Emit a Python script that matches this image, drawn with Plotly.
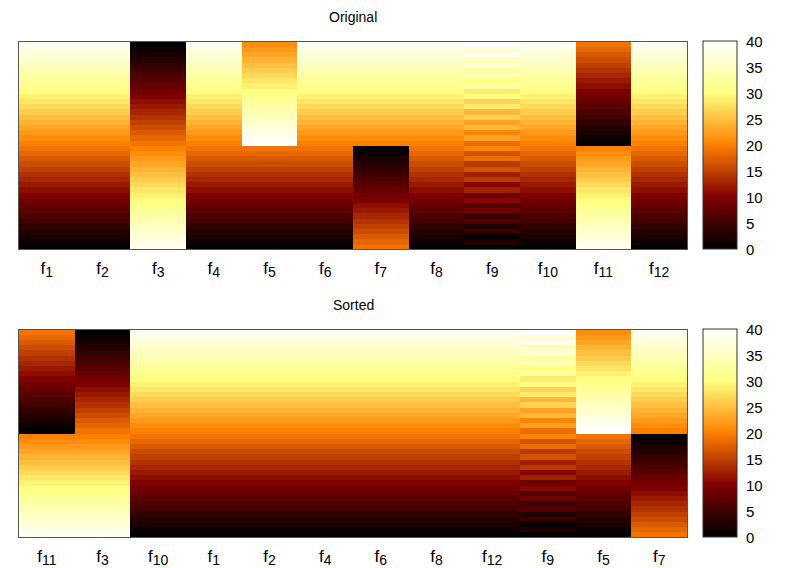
import plotly.graph_objects as go

# ---- data (bottom row first) ----
names = ["f1", "f2", "f3", "f4", "f5", "f6", "f7", "f8", "f9", "f10", "f11", "f12"]
sorted_names = ["f11", "f3", "f10", "f1", "f2", "f4", "f6", "f8", "f12", "f9", "f5", "f7"]

ramp = [0, 1, 2, 3, 4, 5, 6, 7, 8, 9, 10, 11, 12, 13, 14, 15, 16, 17, 18, 19,
        20, 21, 22, 23, 24, 25, 26, 27, 28, 29, 30, 31, 32, 33, 34, 35, 36, 37, 38, 39]
f3 = [39, 38, 37, 36, 35, 34, 33, 32, 31, 30, 29, 28, 27, 26, 25, 24, 23, 22, 21, 20,
      19, 18, 17, 16, 15, 14, 13, 12, 11, 10, 9, 8, 7, 6, 5, 4, 3, 2, 1, 0]
f5 = [0, 1, 2, 3, 4, 5, 6, 7, 8, 9, 10, 11, 12, 13, 14, 15, 16, 17, 18, 19,
      40, 39, 38, 37, 36, 35, 34, 33, 32, 31, 30, 29, 28, 27, 26, 25, 24, 23, 22, 21]
f7 = [19, 18, 17, 16, 15, 14, 13, 12, 11, 10, 9, 8, 7, 6, 5, 4, 3, 2, 1, 0,
      20, 21, 22, 23, 24, 25, 26, 27, 28, 29, 30, 31, 32, 33, 34, 35, 36, 37, 38, 39]
f9 = [0, 2.5, 0.5, 4.5, 2.5, 6.5, 4.5, 8.5, 6.5, 10.5, 8.5, 12.5, 10.5, 14.5, 12.5, 16.5,
      14.5, 18.5, 16.5, 20.5, 18.5, 22.5, 20.5, 24.5, 22.5, 26.5, 24.5, 28.5, 26.5, 30.5,
      28.5, 32.5, 30.5, 34.5, 32.5, 36.5, 34.5, 38.5, 36.5, 40]
f11 = [39, 38, 37, 36, 35, 34, 33, 32, 31, 30, 29, 28, 27, 26, 25, 24, 23, 22, 21, 20,
       0, 1, 2, 3, 4, 5, 6, 7, 8, 9, 10, 11, 12, 13, 14, 15, 16, 17, 18, 19]

columns = {
    "f1": ramp, "f2": ramp, "f3": f3, "f4": ramp, "f5": f5, "f6": ramp,
    "f7": f7, "f8": ramp, "f9": f9, "f10": ramp, "f11": f11, "f12": ramp,
}
cb_ticks = [0, 5, 10, 15, 20, 25, 30, 35, 40]

# ---- layout geometry (pixels -> paper) ----
W, H = 787, 568
px = lambda x: x / W
py = lambda y: 1 - y / H
X0, X1 = 19, 687
panels = [(42, 251), (332, 541)]
CBX0, CBX1 = 703, 737

colorscale = [
    [0.0, "rgb(0,0,0)"],
    [0.25, "rgb(128,0,0)"],
    [0.5, "rgb(255,128,0)"],
    [0.75, "rgb(255,255,128)"],
    [1.0, "rgb(255,255,255)"],
]

FAM = "Liberation Sans, Arial, sans-serif"
font = dict(family=FAM, size=14, color="black")
xfont = dict(family=FAM, size=17, color="black")
cbfont = dict(family=FAM, size=15, color="black")

def label(n):
    return "f<sub><span style='font-size:14px'>%s</span></sub>" % n[1:]

fig = go.Figure()
shapes = []
annotations = []
for k, (order, title) in enumerate([(names, "Original"), (sorted_names, "Sorted")]):
    ytop, ybot = panels[k]
    nrows = len(columns[order[0]])
    z = [[columns[n][r] for n in order] for r in range(nrows)]
    xa = "x" if k == 0 else "x2"
    ya = "y" if k == 0 else "y2"
    fig.add_trace(go.Heatmap(
        z=z, x=list(range(len(order))), y=list(range(nrows)),
        xaxis=xa, yaxis=ya, zmin=0, zmax=40, colorscale=colorscale,
        hoverinfo="skip",
        colorbar=dict(
            x=px(CBX0), xanchor="left", xpad=0,
            y=(py(ytop) + py(ybot)) / 2, yanchor="middle", ypad=0,
            len=py(ytop) - py(ybot), lenmode="fraction",
            thickness=CBX1 - CBX0, thicknessmode="pixels",
            outlinewidth=1, outlinecolor="#333",
            tickvals=cb_ticks, ticks="outside", ticklen=6,
            tickcolor="rgba(0,0,0,0)",
            tickfont=cbfont, ticklabelposition="outside",
        ),
    ))
    axkey = "" if k == 0 else "2"
    fig.layout["xaxis" + axkey] = dict(
        domain=[px(X0), px(X1)], anchor=ya, range=[-0.5, len(order) - 0.5],
        tickvals=list(range(len(order))), ticktext=[label(n) for n in order],
        ticks="", showline=True, mirror=True, linecolor="#555", linewidth=1,
        showgrid=False, zeroline=False, tickfont=xfont, ticklabelstandoff=3,
        fixedrange=True,
    )
    fig.layout["yaxis" + axkey] = dict(
        domain=[py(ybot), py(ytop)], anchor=xa, range=[-0.5, nrows - 0.5],
        showticklabels=False, ticks="", showline=True, mirror=True,
        linecolor="#555", linewidth=1, showgrid=False, zeroline=False,
        fixedrange=True,
    )
    # colorbar tick marks on both inner edges (mirror ticks)
    for v in cb_ticks[1:-1]:
        yy = py(ybot) + (v / 40) * (py(ytop) - py(ybot))
        shapes.append(dict(type="line", xref="paper", yref="paper",
                           x0=px(CBX0), x1=px(CBX0 + 7), y0=yy, y1=yy,
                           line=dict(color="#222", width=1)))
        shapes.append(dict(type="line", xref="paper", yref="paper",
                           x0=px(CBX1 - 7), x1=px(CBX1), y0=yy, y1=yy,
                           line=dict(color="#222", width=1)))
    annotations.append(dict(text=title, xref="paper", yref="paper",
                            x=px((X0 + X1) / 2), y=py(ytop - 25), xanchor="center",
                            yanchor="middle", showarrow=False, font=font))

fig.update_layout(
    width=W, height=H, margin=dict(l=0, r=0, t=0, b=0),
    paper_bgcolor="white", plot_bgcolor="white",
    shapes=shapes, annotations=annotations, font=font, showlegend=False,
)
fig.write_html("out.html")
